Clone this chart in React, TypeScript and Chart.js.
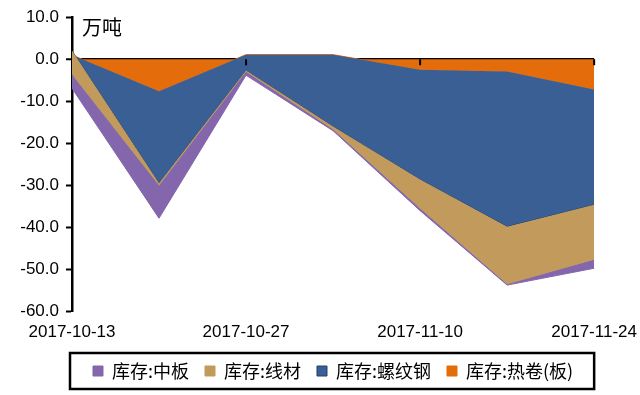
import React, { useEffect, useRef } from 'react';
import { Chart, registerables } from 'chart.js';

Chart.register(...registerables);

// ---- data (万吨), weekly inventory changes ----
const categories = ['2017-10-13', '2017-10-20', '2017-10-27', '2017-11-03', '2017-11-10', '2017-11-17', '2017-11-24'];
// stacked from the zero line outward in this order: 热卷(板) -> 螺纹钢 -> 线材 -> 中板
const hotRolled = [1.0, -7.6, 1.1, 1.1, -2.5, -2.9, -7.2];      // 库存:热卷(板)
const rebar = [1.0, -21.9, -3.8, -17.1, -26.1, -36.9, -27.4];    // 库存:螺纹钢
const wireRod = [-5.6, -0.5, -0.3, -0.7, -6.9, -13.7, -13.1];    // 库存:线材
const plate = [-3.3, -7.8, -0.8, -0.3, -0.5, -0.2, -2.0];         // 库存:中板
const seriesNames = ['库存:热卷(板)', '库存:螺纹钢', '库存:线材', '库存:中板'];
const yMin = -60;
const yMax = 10;
const yStep = 10;
const unitLabel = '万吨';

const NUM_FONT = '"Liberation Sans", Arial, sans-serif';
const CJK_FONT = '"Noto Sans CJK SC", "Noto Sans", sans-serif';

// draw datasets so that series stacked further from zero lie on top (Excel order)
const forwardDraw = {
  id: 'forwardDraw',
  beforeDatasetsDraw(chart: any) {
    if (typeof chart._drawDataset !== 'function') return;
    const metas = chart.getSortedVisibleDatasetMetas();
    for (let i = 0; i < metas.length; i++) chart._drawDataset(metas[i]);
    return false;
  },
};

const decorations = {
  id: 'decorations',
  afterDraw(chart: any) {
    const { ctx, chartArea, scales } = chart;
    const x = scales.x;
    const y = scales.y;
    const y0 = y.getPixelForValue(0);
    ctx.save();
    // x tick marks on the zero line
    ctx.strokeStyle = '#000';
    ctx.lineWidth = 2;
    categories.forEach((_, i) => {
      if (i % 2 !== 0 || i === 0) return;
      const px = x.getPixelForValue(i);
      ctx.beginPath();
      ctx.moveTo(px, y0);
      ctx.lineTo(px, y0 + 6);
      ctx.stroke();
    });
    // unit label
    ctx.fillStyle = '#000';
    ctx.font = `20px ${CJK_FONT}`;
    ctx.textAlign = 'left';
    ctx.textBaseline = 'middle';
    ctx.fillText(unitLabel, chartArea.left + 10, chartArea.top + 10);
    // legend frame
    const lg = chart.legend;
    if (lg && lg.legendHitBoxes && lg.legendHitBoxes.length) {
      const boxes = lg.legendHitBoxes;
      let minY = Infinity, maxY = -Infinity;
      boxes.forEach((b: any) => { minY = Math.min(minY, b.top); maxY = Math.max(maxY, b.top + b.height); });
      ctx.lineWidth = 2.5;
      ctx.strokeStyle = '#000';
      ctx.strokeRect(chartArea.left - 2, minY - 9, chartArea.right - chartArea.left + 2, maxY - minY + 18);
    }
    ctx.restore();
  },
};

export default function App() {
  const ref = useRef<HTMLCanvasElement | null>(null);
  useEffect(() => {
    if (!ref.current) return;
    const mk = (label: string, data: number[], bg: string, border: string, fill: any) => ({
      label, data, backgroundColor: bg, borderColor: border, borderWidth: 1,
      fill, pointRadius: 0, pointHoverRadius: 0, tension: 0,
    });
    const chart = new Chart(ref.current, {
      type: 'line',
      data: {
        labels: categories,
        datasets: [
          mk(seriesNames[0], hotRolled, '#E46C0A', '#E46C0A', 'origin'),
          mk(seriesNames[1], rebar, '#3A5F95', '#23406A', '-1'),
          mk(seriesNames[2], wireRod, '#C29A5B', '#C29A5B', '-1'),
          mk(seriesNames[3], plate, '#8466AC', '#8466AC', '-1'),
        ],
      },
      options: {
        animation: false,
        responsive: true,
        maintainAspectRatio: false,
        layout: { padding: { top: 11, right: 2, left: 0, bottom: 5 } },
        plugins: {
          tooltip: { enabled: false },
          legend: {
            position: 'bottom',
            fullSize: false,
            labels: {
              boxWidth: 10,
              boxHeight: 10,
              padding: 16,
              color: '#000',
              font: { family: CJK_FONT, size: 18, lineHeight: 1.0 },
              sort: (a: any, b: any) => b.datasetIndex - a.datasetIndex,
            },
          },
        },
        scales: {
          x: {
            type: 'category',
            offset: false,
            grid: { display: false },
            border: { display: false },
            ticks: {
              autoSkip: false,
              maxRotation: 0,
              color: '#000',
              font: { family: NUM_FONT, size: 17 },
              callback: (_v: any, i: number) => (i % 2 === 0 ? categories[i] : ''),
            },
          },
          y: {
            stacked: 'single',
            min: yMin,
            max: yMax,
            z: 1,
            ticks: {
              stepSize: yStep,
              color: '#000',
              padding: 7,
              font: { family: NUM_FONT, size: 17 },
              callback: (v: any) => Number(v).toFixed(1),
            },
            grid: {
              drawOnChartArea: true,
              color: (c: any) => (c.tick && c.tick.value === 0 ? '#000' : 'rgba(0,0,0,0)'),
              lineWidth: (c: any) => (c.tick && c.tick.value === 0 ? 2.5 : 1),
              tickColor: '#000',
              tickLength: 6,
              tickWidth: 2,
            },
            border: { display: true, color: '#000', width: 2.5 },
            afterFit: (s: any) => { s.width = 72; },
          },
        },
      } as any,
      plugins: [forwardDraw, decorations],
    });
    return () => chart.destroy();
  }, []);
  return (
    <div style={{ position: 'fixed', left: 0, top: 0, width: 640, height: 395, background: '#fff' }}>
      <canvas ref={ref} />
    </div>
  );
}
